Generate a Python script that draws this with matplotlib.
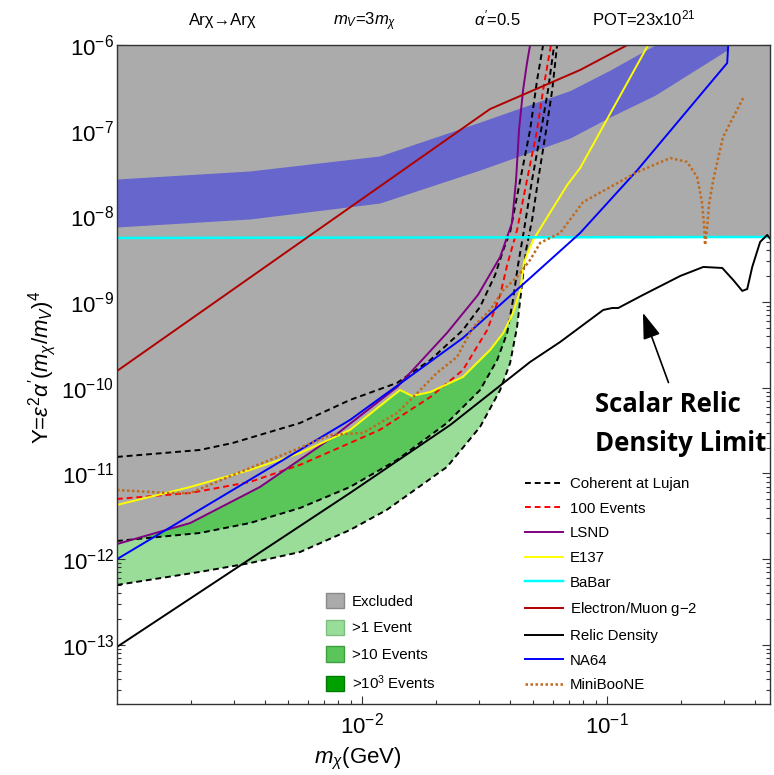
import numpy as np
import matplotlib
matplotlib.use("Agg")
import matplotlib.pyplot as plt
from matplotlib.patches import Patch
from matplotlib.ticker import LogLocator, FixedLocator, NullFormatter, LogFormatterSciNotation

plt.rcParams['font.family'] = ['Liberation Sans', 'DejaVu Sans']
plt.rcParams['mathtext.fontset'] = 'custom'
plt.rcParams['mathtext.rm'] = 'Liberation Sans'
plt.rcParams['mathtext.it'] = 'Liberation Sans:italic'
plt.rcParams['mathtext.bf'] = 'Liberation Sans:bold'

# ---- data: m_chi in GeV, Y dimensionless ----

# Coherent at Lujan event contours
lujan1_m = [1.0e-3, 2.18e-3, 3.49e-3, 5.58e-3, 8.93e-3, 1.26e-2, 2.22e-2, 3.03e-2, 3.66e-2,
            4.02e-2, 4.29e-2, 4.50e-2, 4.67e-2, 4.94e-2, 5.23e-2, 5.64e-2, 5.97e-2, 6.25e-2]
lujan1_y = [5.0e-13, 7.1e-13, 9.0e-13, 1.21e-12, 2.19e-12, 3.75e-12, 1.19e-11, 3.49e-11, 9.4e-11,
            1.95e-10, 5.1e-10, 1.67e-9, 4.06e-9, 9.1e-9, 2.66e-8, 1.02e-7, 2.98e-7, 1.0e-6]

lujan10_m = [1.0e-3, 2.18e-3, 3.49e-3, 5.58e-3, 8.93e-3, 1.39e-2, 2.22e-2, 3.03e-2, 3.56e-2,
             3.91e-2, 4.13e-2, 4.33e-2, 4.58e-2, 4.94e-2, 5.38e-2, 5.74e-2, 6.08e-2]
lujan10_y = [1.63e-12, 2.02e-12, 2.64e-12, 3.95e-12, 6.95e-12, 1.44e-11, 3.88e-11, 9.4e-11, 2.11e-10,
             4.36e-10, 1.06e-9, 2.71e-9, 6.94e-9, 2.66e-8, 1.02e-7, 2.98e-7, 1.0e-6]

lujan1000_m = [1.0e-3, 2.18e-3, 2.97e-3, 5.58e-3, 8.93e-3, 1.39e-2, 1.90e-2, 2.58e-2, 3.03e-2,
               3.49e-2, 3.77e-2, 4.02e-2, 4.42e-2, 4.85e-2, 5.18e-2, 5.48e-2]
lujan1000_y = [1.56e-11, 1.88e-11, 2.27e-11, 3.88e-11, 7.21e-11, 1.14e-10, 2.11e-10, 4.72e-10, 8.77e-10,
               2.07e-9, 4.06e-9, 6.58e-9, 2.66e-8, 1.02e-7, 3.91e-7, 1.0e-6]

ev100_m = [1.0e-3, 1.99e-3, 3.49e-3, 5.58e-3, 8.93e-3, 1.18e-2, 1.90e-2, 2.58e-2, 3.24e-2,
           3.66e-2, 3.91e-2, 4.29e-2, 4.71e-2, 5.18e-2, 5.48e-2, 5.90e-2]
ev100_y = [5.04e-12, 5.92e-12, 7.96e-12, 1.26e-11, 2.27e-11, 3.22e-11, 7.81e-11, 1.61e-10, 4.72e-10,
           1.21e-9, 2.71e-9, 6.94e-9, 2.66e-8, 1.02e-7, 2.98e-7, 1.0e-6]

lsnd_m = [1.0e-3, 1.99e-3, 3.83e-3, 7.62e-3, 1.39e-2, 2.22e-2, 2.97e-2, 3.66e-2, 4.09e-2,
          4.25e-2, 4.37e-2, 4.54e-2, 4.71e-2, 4.85e-2]
lsnd_y = [1.50e-12, 2.64e-12, 6.95e-12, 2.67e-11, 1.02e-10, 4.36e-10, 1.21e-9, 3.36e-9, 8.38e-9,
          2.66e-8, 1.02e-7, 2.98e-7, 6.17e-7, 1.0e-6]

e137_m = [1.0e-3, 1.99e-3, 3.49e-3, 5.58e-3, 8.93e-3, 1.30e-2, 1.43e-2, 1.60e-2, 1.90e-2, 2.58e-2,
          3.33e-2, 3.77e-2, 4.13e-2, 4.42e-2, 4.58e-2, 4.99e-2, 6.87e-2, 7.76e-2, 1.47e-1]
e137_y = [4.29e-12, 6.95e-12, 1.10e-11, 1.73e-11, 3.22e-11, 7.60e-11, 9.42e-11, 8.02e-11, 8.93e-11, 1.34e-10,
          2.76e-10, 4.36e-10, 7.46e-10, 1.38e-9, 2.94e-9, 5.31e-9, 2.32e-8, 3.67e-8, 1.0e-6]

babar_m = [1.0e-3, 0.462]
babar_y = [5.6e-9, 5.75e-9]

g2_m = [1.0e-3, 3.33e-2, 7.76e-2, 1.21e-1]
g2_y = [1.57e-10, 1.79e-7, 5.11e-7, 1.0e-6]

relic_m = [1.0e-3, 8.93e-3, 2.29e-2, 4.85e-2, 6.43e-2, 9.64e-2, 1.05e-1, 1.11e-1, 1.40e-1, 1.99e-1,
           2.47e-1, 2.95e-1, 3.27e-1, 3.56e-1, 3.73e-1, 3.91e-1, 4.21e-1, 4.50e-1, 4.67e-1]
relic_y = [9.46e-14, 5.92e-12, 3.68e-11, 2.00e-10, 3.42e-10, 8.09e-10, 8.53e-10, 8.53e-10, 1.21e-9, 2.02e-9,
           2.57e-9, 2.50e-9, 1.81e-9, 1.35e-9, 1.42e-9, 2.57e-9, 5.03e-9, 6.07e-9, 5.31e-9]

na64_m = [1.0e-3, 8.93e-3, 2.58e-2, 4.85e-2, 7.76e-2, 1.33e-1, 3.09e-1, 3.12e-1]
na64_y = [1.00e-12, 4.21e-11, 3.81e-10, 1.91e-9, 6.40e-9, 3.48e-8, 6.17e-7, 1.0e-6]

mb_m = [1.0e-3, 1.60e-3, 1.99e-3, 3.49e-3, 5.58e-3, 7.40e-3, 1.01e-2, 1.39e-2, 1.68e-2, 2.02e-2,
        2.44e-2, 2.84e-2, 3.33e-2, 3.77e-2, 4.29e-2, 4.85e-2, 5.33e-2, 6.43e-2, 7.98e-2, 1.33e-1,
        1.81e-1, 2.12e-1, 2.33e-1, 2.44e-1, 2.49e-1, 2.51e-1, 2.56e-1, 2.61e-1, 2.71e-1, 2.97e-1, 3.59e-1]
mb_y = [6.41e-12, 5.92e-12, 5.92e-12, 1.16e-11, 1.99e-11, 2.81e-11, 2.97e-11, 5.08e-11, 8.69e-11, 1.49e-10,
        2.29e-10, 5.12e-10, 8.09e-10, 1.38e-9, 1.96e-9, 3.10e-9, 4.90e-9, 6.40e-9, 1.47e-8, 3.30e-8,
        4.80e-8, 4.31e-8, 2.88e-8, 1.43e-8, 7.52e-9, 4.64e-9, 7.52e-9, 1.43e-8, 2.66e-8, 8.44e-8, 2.41e-7]

# blue theory band
band_m = [1.0e-3, 3.49e-3, 1.18e-2, 3.03e-2, 7.06e-2, 1.03e-1, 1.57e-1, 3.09e-1]
band_lo = [7.52e-9, 9.33e-9, 1.43e-8, 3.48e-8, 8.22e-8, 1.45e-7, 2.6e-7, 8.75e-7]
band_hi = [2.73e-8, 3.39e-8, 5.07e-8, 1.26e-7, 2.94e-7, 5.11e-7, 1.0e-6, 1.0e-6]

XMIN, XMAX = 1.0e-3, 0.462
YMIN, YMAX = 2.04e-14, 1.0e-6

GRAY = '#ababab'
GREEN1 = '#99dd99'
GREEN10 = '#5ac65a'
GREEN1000 = '#00a000'


def log_interp(xq, x, y, right=1.0):
    # interpolate in log-log space, curves that end go off the top
    return 10 ** np.interp(np.log10(xq), np.log10(x), np.log10(y), right=np.log10(right))


fig = plt.figure(figsize=(7.74, 7.75), dpi=100)
ax = fig.add_axes([117 / 774, 71 / 775, 653 / 774, 659 / 775])
ax.set_xscale('log')
ax.set_yscale('log')
ax.set_xlim(XMIN, XMAX)
ax.set_ylim(YMIN, YMAX)

# event regions
ax.fill_between(lujan1_m, lujan1_y, 1.0, color=GREEN1, lw=0, zorder=1)
ax.fill_between(lujan10_m, lujan10_y, 1.0, color=GREEN10, lw=0, zorder=1.1)
ax.fill_between(lujan1000_m, lujan1000_y, 1.0, color=GREEN1000, lw=0, zorder=1.2)

# excluded region = above the lowest of LSND, E137, BaBar
grid = np.logspace(np.log10(XMIN), np.log10(XMAX), 4000)
excl = np.minimum.reduce([log_interp(grid, lsnd_m, lsnd_y),
                          log_interp(grid, e137_m, e137_y),
                          log_interp(grid, babar_m, babar_y)])
ax.fill_between(grid, excl, 1.0, color=GRAY, lw=0, zorder=2)

ax.fill_between(band_m, band_lo, band_hi, color='#6666cc', lw=0, zorder=3)

LW = 1.4
dash = (0, (3, 2))
h_lujan, = ax.plot(lujan1_m, lujan1_y, color='black', lw=LW, ls=dash, zorder=5, label='Coherent at Lujan')
ax.plot(lujan10_m, lujan10_y, color='black', lw=LW, ls=dash, zorder=5)
ax.plot(lujan1000_m, lujan1000_y, color='black', lw=LW, ls=dash, zorder=5)
h_100, = ax.plot(ev100_m, ev100_y, color='#ff0000', lw=LW, ls=dash, zorder=5, label='100 Events')
h_lsnd, = ax.plot(lsnd_m, lsnd_y, color='#800080', lw=LW, zorder=5, label='LSND')
h_e137, = ax.plot(e137_m, e137_y, color='#ffff00', lw=LW, zorder=5, label='E137')
h_babar, = ax.plot(babar_m, babar_y, color='#00ffff', lw=LW + 0.4, zorder=5, label='BaBar')
h_g2, = ax.plot(g2_m, g2_y, color='#b00000', lw=LW, zorder=5, label='Electron/Muon g$-$2')
h_relic, = ax.plot(relic_m, relic_y, color='black', lw=LW, zorder=5, label='Relic Density')
h_na64, = ax.plot(na64_m, na64_y, color='#0000ff', lw=LW, zorder=5, label='NA64')
h_mb, = ax.plot(mb_m, mb_y, color='#c06a1e', lw=1.8, ls=(0, (1, 1)), zorder=5, label='MiniBooNE')

# axes styling
ax.xaxis.set_major_locator(FixedLocator([1e-2, 1e-1]))
ax.xaxis.set_major_formatter(LogFormatterSciNotation())
ax.xaxis.set_minor_locator(LogLocator(base=10, subs=np.arange(2, 10), numticks=20))
ax.xaxis.set_minor_formatter(NullFormatter())
ax.yaxis.set_major_locator(FixedLocator([1e-13, 1e-12, 1e-11, 1e-10, 1e-9, 1e-8, 1e-7, 1e-6]))
ax.yaxis.set_major_formatter(LogFormatterSciNotation())
ax.yaxis.set_minor_locator(LogLocator(base=10, subs=np.arange(2, 10), numticks=20))
ax.yaxis.set_minor_formatter(NullFormatter())
ax.tick_params(which='both', direction='in', top=True, right=True, width=0.8, colors='#333333',
               labelcolor='black')
ax.tick_params(which='major', length=6, labelsize=16)
ax.tick_params(which='minor', length=3)
ax.tick_params(axis='y', pad=2)
ax.tick_params(axis='x', pad=6)
for s in ax.spines.values():
    s.set_color('#333333')
    s.set_linewidth(1.0)
    s.set_zorder(10)

ax.set_xlabel(r'$m_{\chi}$(GeV)', fontsize=16)
ax.xaxis.set_label_coords(0.369, -0.064)
ax.set_ylabel(r"Y=$\varepsilon^{2}\alpha'(m_{\chi}/m_{V})^{4}$", fontsize=16)
ax.yaxis.set_label_coords(-0.09, 0.511)

# header line
for xc, txt in [(223, 'Arχ→Arχ'), (365, r'$m_V$=3$m_\chi$'),
                (497, r"$\alpha'$=0.5"), (644, r'POT=23x10$^{21}$')]:
    fig.text(xc / 774, 1 - 25 / 775, txt, ha='center', va='baseline', fontsize=12)

# legends
leg1 = ax.legend(handles=[h_lujan, h_100, h_lsnd, h_e137, h_babar, h_g2, h_relic, h_na64, h_mb],
                 loc='upper left', bbox_to_anchor=(0.625, 0.3444), frameon=False, fontsize=10.8,
                 handlelength=2.5, handletextpad=0.5, labelspacing=0.71, borderpad=0, borderaxespad=0)
ax.add_artist(leg1)

patches = [Patch(facecolor=GRAY, edgecolor='#8a8a8a', label='Excluded'),
           Patch(facecolor=GREEN1, edgecolor='#7cbf7c', label='>1 Event'),
           Patch(facecolor=GREEN10, edgecolor='#3f9f3f', label='>10 Events'),
           Patch(facecolor=GREEN1000, edgecolor='#007a00', label=r'>10$^3$ Events')]
ax.legend(handles=patches, loc='upper left', bbox_to_anchor=(0.320, 0.1684), frameon=False,
          fontsize=10.8, handlelength=1.2, handleheight=1.2, handletextpad=0.55,
          labelspacing=0.73, borderpad=0, borderaxespad=0)

# annotation
ax.text(0.732, 0.4249, 'Scalar Relic\nDensity Limit', transform=ax.transAxes, fontsize=18.5,
        fontweight='bold', family='Open Sans', ha='left', va='center', linespacing=1.6, zorder=12)
ax.annotate('', xy=(0.140, 7.5e-10), xytext=(0.178, 1.15e-10),
            arrowprops=dict(arrowstyle='-|>,head_length=0.8,head_width=0.27', color='black',
                            lw=1.2, mutation_scale=20, shrinkA=0, shrinkB=0), zorder=12)

fig.savefig('out.png', dpi=100)
